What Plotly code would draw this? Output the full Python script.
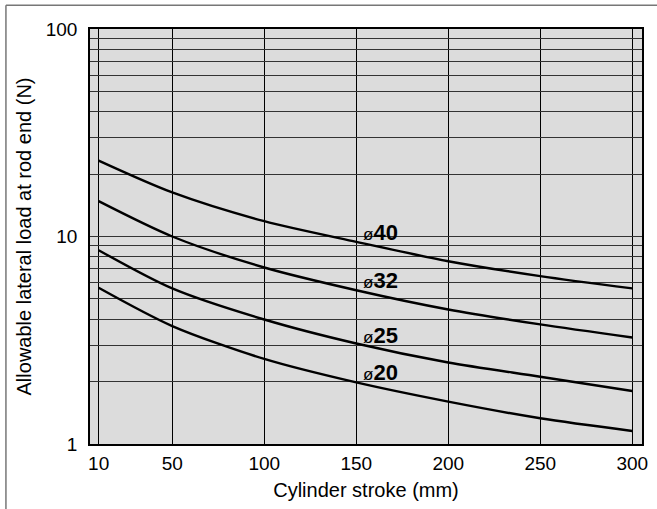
import math
import plotly.graph_objects as go

stroke = [10, 50, 100, 150, 200, 250, 300]
load_d40 = [23.2, 16.3, 11.85, 9.42, 7.6, 6.44, 5.62]
load_d32 = [14.8, 10.0, 7.09, 5.51, 4.45, 3.77, 3.26]
load_d25 = [8.59, 5.62, 3.98, 3.05, 2.47, 2.11, 1.80]
load_d20 = [5.66, 3.70, 2.57, 1.98, 1.60, 1.33, 1.155]

series_names = ["40", "32", "25", "20"]
series_vals = [load_d40, load_d32, load_d25, load_d20]
label_x = [153.1, 153.1, 153.1, 153.1]
label_y = [10.5, 6.16, 3.35, 2.21]

x_ticks = [10, 50, 100, 150, 200, 250, 300]
y_ticks = [1, 2, 3, 4, 5, 6, 7, 8, 9, 10, 20, 30, 40, 50, 60, 70, 80, 90, 100]
y_labels = ["1", "", "", "", "", "", "", "", "", "10", "", "", "", "", "", "", "", "", "100"]

X_RANGE = [5.3, 305.3]
Y_RANGE = [0, 2]  # log10 units
BG = "#dcdcdc"
FONT = "Liberation Sans, Arial, Helvetica, sans-serif"

fig = go.Figure()
for name, vals in zip(series_names, series_vals):
    fig.add_trace(go.Scatter(x=stroke, y=vals, mode="lines", name="ø" + name,
                             line=dict(color="black", width=2.4, shape="spline", smoothing=0.8),
                             showlegend=False, hoverinfo="skip"))

xspan = X_RANGE[1] - X_RANGE[0]
for name, lx, ly in zip(series_names, label_x, label_y):
    ly_log = math.log10(ly)
    # background patch that interrupts the gridlines behind the label (below the curves)
    px0 = (lx - 1.1 - X_RANGE[0]) / xspan
    px1 = (lx + 22.3 - X_RANGE[0]) / xspan
    py = (ly_log - Y_RANGE[0]) / (Y_RANGE[1] - Y_RANGE[0])
    fig.add_shape(type="rect", xref="paper", yref="paper", x0=px0, x1=px1,
                  y0=py - 0.019, y1=py + 0.019, layer="between",
                  fillcolor=BG, line=dict(width=0))
    fig.add_annotation(x=lx, y=ly_log, yref="y", xref="x", xanchor="left", yanchor="middle",
                       text='<span style="font-size:17px;font-weight:normal">ø</span><b>' + name + '</b>',
                       showarrow=False, borderpad=0,
                       font=dict(family=FONT, size=22, color="black"))

# outer frame (top and left edges)
fig.add_shape(type="line", xref="paper", yref="paper", x0=-0.1523, x1=1.03, y0=1.0571, y1=1.0571,
              line=dict(color="#777777", width=1.5))
fig.add_shape(type="line", xref="paper", yref="paper", x0=-0.1523, x1=-0.1523, y0=-0.2, y1=1.0571,
              line=dict(color="#777777", width=1.5))

fig.update_layout(
    width=657, height=509,
    margin=dict(l=90, r=15.3, t=28.7, b=65),
    paper_bgcolor="white", plot_bgcolor=BG,
    font=dict(family=FONT, size=19, color="black"),
    xaxis=dict(range=X_RANGE, tickvals=x_ticks, ticks="", showgrid=True,
               gridcolor="black", gridwidth=1, zeroline=False, automargin=False,
               showline=True, linecolor="black", linewidth=1.5, mirror=True,
               ticklabelstandoff=1, tickfont=dict(size=19),
               title=dict(text="Cylinder stroke (mm)", standoff=10, font=dict(size=20))),
    yaxis=dict(type="log", range=Y_RANGE, tickvals=y_ticks, ticktext=y_labels, ticks="",
               showgrid=True, gridcolor="#333333", gridwidth=1, zeroline=False, automargin=False,
               showline=True, linecolor="black", linewidth=1.5, mirror=True,
               ticklabelstandoff=7, tickfont=dict(size=19),
               title=dict(text="Allowable lateral load at rod end (N)", standoff=9, font=dict(size=20))),
)

fig.write_html("out.html", config={"displayModeBar": False},
               post_script="document.body.style.margin='0';document.body.style.overflow='hidden';"
                           "document.documentElement.style.overflow='hidden';")
